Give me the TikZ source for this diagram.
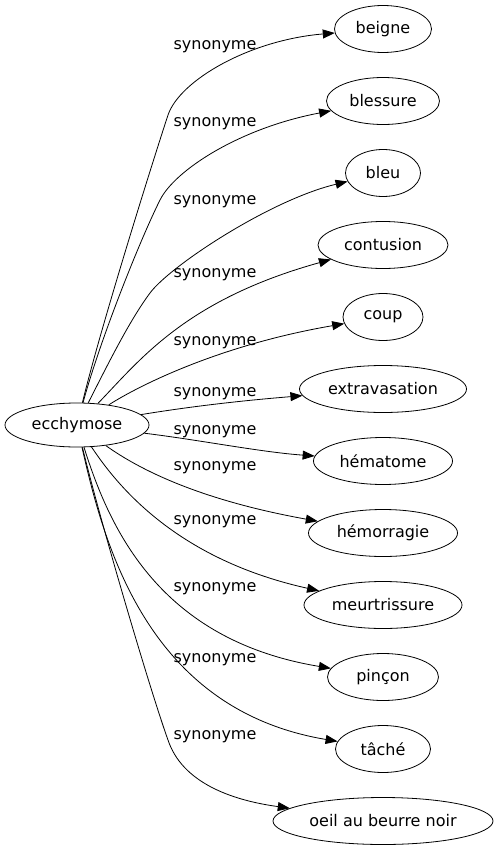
\documentclass[tikz,border=0pt]{standalone}
\usepackage{fontspec}
\setmainfont{DejaVu Sans}
\usetikzlibrary{arrows.meta}
\usetikzlibrary{shapes.geometric}

\begin{document}
\begin{tikzpicture}%
	[x=1pt, y=-1pt,
	word/.style={ellipse, draw, line width=0.8pt, inner sep=0pt, minimum height=47pt, font=\fontsize{16}{19}\selectfont},
	syn/.style={line width=0.8pt, -{Triangle[length=12pt,width=9pt]}},
	lbl/.style={inner sep=0pt, font=\fontsize{16}{19}\selectfont}]
\useasboundingbox (0,0) rectangle (498,851);
%%
%% The source word
%%
\node[word, minimum width=144pt, minimum height=44pt] (ecchymose) at (77,425) {ecchymose};
%%
%% The synonyms, one every 72pt
%%
\node[word, minimum width=97pt] (beigne) at (383,29) {beigne};
\node[word, minimum width=113pt] (blessure) at (383,101) {blessure};
\node[word, minimum width=75pt] (bleu) at (383,173) {bleu};
\node[word, minimum width=130pt] (contusion) at (383,245) {contusion};
\node[word, minimum width=80pt] (coup) at (383,317) {coup};
\node[word, minimum width=167pt] (extravasation) at (383,389) {extravasation};
\node[word, minimum width=139pt] (hematome) at (383,461) {hématome};
\node[word, minimum width=149pt] (hemorragie) at (383,533) {hémorragie};
\node[word, minimum width=158pt] (meurtrissure) at (383,605) {meurtrissure};
\node[word, minimum width=111pt] (pincon) at (383,677) {pinçon};
\node[word, minimum width=95pt] (tache) at (383,749) {tâché};
\node[word, minimum width=220pt] (oeil) at (383,821) {oeil au beurre noir};
%%
%% The edges
%%
\draw[syn] (ecchymose) .. controls (100,330) and (150,170) .. (168,115)
  .. controls (180,80) and (250,40) .. (beigne);
\draw[syn] (ecchymose) .. controls (100,340) and (140,240) .. (160,200)
  .. controls (175,170) and (240,128) .. (blessure);
\draw[syn] (ecchymose) .. controls (110,360) and (130,320) .. (150,293)
  .. controls (170,266) and (270,200) .. (bleu);
\draw[syn] (ecchymose) .. controls (140,360) and (185,300) .. (contusion);
\draw[syn] (ecchymose) .. controls (140,385) and (220,345) .. (coup);
\draw[syn] (ecchymose) .. controls (200,405) and (250,400) .. (extravasation);
\draw[syn] (ecchymose) .. controls (200,440) and (260,452) .. (hematome);
\draw[syn] (ecchymose) .. controls (140,470) and (200,500) .. (hemorragie);
\draw[syn] (ecchymose) .. controls (120,490) and (180,560) .. (meurtrissure);
\draw[syn] (ecchymose) .. controls (110,530) and (160,640) .. (pincon);
\draw[syn] (ecchymose) .. controls (105,550) and (150,710) .. (tache);
\draw[syn] (ecchymose) .. controls (100,520) and (150,690) .. (168,740)
  .. controls (182,782) and (230,800) .. (oeil);
%%
%% The edge labels
%%
\foreach \y [count=\i] in {47,124,202,275,343,394,432,468,522,589,660,737}
  \node[lbl] (label\i) at (215,\y) {synonyme};
%%
\end{tikzpicture}
\end{document}
